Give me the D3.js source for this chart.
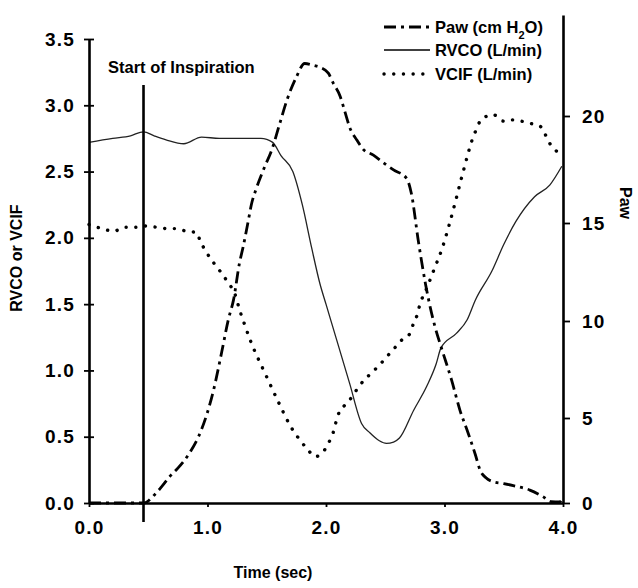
<!DOCTYPE html>
<html>
<head>
<meta charset="utf-8">
<script src="https://cdn.jsdelivr.net/npm/d3@7/dist/d3.min.js"></script>
<style>
  html, body { margin: 0; padding: 0; background: #fff; }
  svg { display: block; }
  text { font-family: "Liberation Sans", Arial, Helvetica, sans-serif; font-weight: bold; fill: #000; }
</style>
</head>
<body>
<svg id="chart" width="638" height="588"></svg>
<script>
// ---------------- data ----------------
const xTicks = [0, 1, 2, 3, 4];
const xTickLabels = ["0.0", "1.0", "2.0", "3.0", "4.0"];
const leftTicks = [0, 0.5, 1, 1.5, 2, 2.5, 3, 3.5];
const leftTickLabels = ["0.0", "0.5", "1.0", "1.5", "2.0", "2.5", "3.0", "3.5"];
const rightTicks = [0, 5, 10, 15, 20];
const rightTickLabels = ["0", "5", "10", "15", "20"];
const startTime = 0.46;

const seriesNames = ["Paw", "RVCO (L/min)", "VCIF (L/min)"];

// Paw (cm H2O), right axis
const pawTime = [0, 0.46, 0.55, 0.62, 0.68, 0.75, 0.85, 0.95, 1.05, 1.12, 1.175, 1.22, 1.27, 1.30, 1.345, 1.37, 1.415, 1.485, 1.54, 1.61, 1.67, 1.75, 1.82, 1.9, 1.95, 2.02, 2.06, 2.12, 2.16, 2.2, 2.26, 2.31, 2.4, 2.51, 2.57, 2.68, 2.72, 2.78, 2.84, 2.88, 2.92, 2.98, 3.06, 3.13, 3.2, 3.26, 3.30, 3.35, 3.41, 3.5, 3.58, 3.72, 3.83, 3.9, 3.97, 4.0];
const pawValues = [0, 0, 0.46, 1.02, 1.55, 2.05, 2.96, 4.33, 6.41, 8.40, 10.05, 11.09, 12.96, 13.76, 15.13, 15.85, 16.66, 17.66, 18.38, 19.65, 20.78, 21.93, 22.60, 22.50, 22.41, 22.12, 21.64, 20.97, 20.20, 19.47, 18.88, 18.47, 18.17, 17.71, 17.48, 17.09, 16.39, 14.05, 11.88, 10.69, 9.70, 8.50, 6.95, 5.41, 4.10, 2.85, 1.94, 1.48, 1.25, 1.14, 1.02, 0.76, 0.38, 0.08, 0.06, 0.34];

// RVCO (L/min), left axis
const rvcoTime = [0, 0.2, 0.35, 0.46, 0.55, 0.65, 0.8, 0.95, 1.1, 1.3, 1.45, 1.55, 1.62, 1.72, 1.8, 1.88, 1.95, 2.0, 2.09, 2.2, 2.3, 2.37, 2.45, 2.51, 2.57, 2.62, 2.74, 2.85, 2.93, 2.97, 3.1, 3.19, 3.26, 3.4, 3.5, 3.6, 3.76, 3.89, 3.99];
const rvcoValues = [2.72, 2.75, 2.77, 2.80, 2.77, 2.74, 2.71, 2.76, 2.75, 2.75, 2.75, 2.72, 2.62, 2.50, 2.25, 1.92, 1.65, 1.50, 1.23, 0.9, 0.6, 0.53, 0.47, 0.45, 0.46, 0.49, 0.70, 0.88, 1.05, 1.17, 1.28, 1.38, 1.53, 1.75, 1.95, 2.12, 2.31, 2.40, 2.54];

// VCIF (L/min), left axis
const vcifTime = [0, 0.11, 0.21, 0.30, 0.39, 0.47, 0.57, 0.66, 0.74, 0.82, 0.91, 0.94, 0.98, 1.02, 1.08, 1.13, 1.175, 1.23, 1.27, 1.30, 1.36, 1.49, 1.61, 1.70, 1.78, 1.84, 1.91, 1.98, 2.02, 2.06, 2.10, 2.16, 2.22, 2.27, 2.37, 2.44, 2.51, 2.58, 2.64, 2.71, 2.74, 2.77, 2.79, 2.85, 2.92, 2.98, 3.04, 3.10, 3.14, 3.17, 3.20, 3.23, 3.26, 3.30, 3.34, 3.41, 3.50, 3.57, 3.65, 3.74, 3.81, 3.85, 3.89, 3.95, 3.99];
const vcifValues = [2.10, 2.07, 2.05, 2.08, 2.08, 2.09, 2.08, 2.07, 2.07, 2.05, 2.04, 1.97, 1.91, 1.85, 1.78, 1.72, 1.66, 1.58, 1.46, 1.38, 1.23, 0.97, 0.74, 0.58, 0.475, 0.41, 0.35, 0.39, 0.45, 0.53, 0.66, 0.74, 0.80, 0.87, 0.97, 1.03, 1.10, 1.17, 1.23, 1.28, 1.36, 1.42, 1.49, 1.62, 1.78, 1.92, 2.10, 2.30, 2.44, 2.54, 2.64, 2.73, 2.80, 2.88, 2.91, 2.93, 2.88, 2.89, 2.88, 2.86, 2.84, 2.78, 2.71, 2.65, 2.62];

// ---------------- chart ----------------
const svg = d3.select("#chart");
const x = d3.scaleLinear().domain([0, 4]).range([89, 563]);
const yL = d3.scaleLinear().domain([0, 3.5]).range([503, 39]);
// the scanned right axis has slightly uneven tick spacing; follow it piecewise
const yR = d3.scaleLinear().domain([0, 5, 10, 15, 20, 25]).range([503, 418, 321, 223, 116, 15]);

const zip = (t, v) => t.map((d, i) => [d, v[i]]);
const lineL = d3.line().x(d => x(d[0])).y(d => yL(d[1])).curve(d3.curveMonotoneX);
const lineR = d3.line().x(d => x(d[0])).y(d => yR(d[1])).curve(d3.curveMonotoneX);

// curves
svg.append("path").datum(zip(rvcoTime, rvcoValues))
  .attr("d", lineL).attr("fill", "none").attr("stroke", "#222").attr("stroke-width", 1.3);
svg.append("path").datum(zip(vcifTime, vcifValues))
  .attr("d", lineL).attr("fill", "none").attr("stroke", "#000").attr("stroke-width", 3.4)
  .attr("stroke-linecap", "round").attr("stroke-dasharray", "0.1,9.6");
svg.append("path").datum(zip(pawTime, pawValues))
  .attr("d", lineR).attr("fill", "none").attr("stroke", "#000").attr("stroke-width", 2.8)
  .attr("stroke-dasharray", "12,5,3,5");

// axes
const fontTick = "19px";
const gL = svg.append("g").attr("transform", `translate(${x(0)},0)`)
  .call(d3.axisLeft(yL).tickValues(leftTicks).tickFormat((d, i) => leftTickLabels[i]).tickSize(5).tickSizeOuter(0).tickPadding(9));
gL.selectAll(".tick line").attr("x1", 5);
const gB = svg.append("g").attr("transform", `translate(0,${yL(0)})`)
  .call(d3.axisBottom(x).tickValues(xTicks).tickFormat((d, i) => xTickLabels[i]).tickSize(4).tickSizeOuter(0).tickPadding(14));
const gR = svg.append("g").attr("transform", `translate(${x(4)},0)`)
  .call(d3.axisRight(yR).tickValues(rightTicks).tickFormat((d, i) => rightTickLabels[i]).tickSize(7).tickSizeOuter(0).tickPadding(12));

[gL, gB, gR].forEach(g => {
  g.select(".domain").attr("stroke", "#000").attr("stroke-width", 2.6);
  g.selectAll(".tick line").attr("stroke", "#000").attr("stroke-width", 1.8);
  g.selectAll(".tick text").style("font-size", fontTick).style("letter-spacing", "1.2px")
    .attr("font-family", null).attr("fill", "#000");
});

// start of inspiration marker
svg.append("line").attr("x1", x(startTime)).attr("x2", x(startTime))
  .attr("y1", 85).attr("y2", 522).attr("stroke", "#000").attr("stroke-width", 2.6);
svg.append("text").attr("x", 108).attr("y", 67).attr("dy", "0.35em")
  .style("font-size", "16.5px").text("Start of Inspiration");

// axis titles
svg.append("text").attr("transform", "translate(16,258) rotate(-90)")
  .attr("text-anchor", "middle").attr("dy", "0.35em").style("font-size", "16px").text("RVCO or VCIF");
svg.append("text").attr("transform", "translate(626,203) rotate(90)")
  .attr("text-anchor", "middle").attr("dy", "0.35em").style("font-size", "16px").text("Paw");
svg.append("text").attr("x", 273).attr("y", 572).attr("text-anchor", "middle").attr("dy", "0.35em")
  .style("font-size", "16px").text("Time (sec)");

// legend
const legendY = [27, 50, 74];
const legendStyles = [
  { w: 2.8, dash: "12,5,3,5", cap: "butt" },
  { w: 1.3, dash: null, cap: "butt" },
  { w: 3.4, dash: "0.1,9.6", cap: "round" }
];
const leg = svg.append("g");
seriesNames.forEach((name, i) => {
  leg.append("line").attr("x1", 384).attr("x2", 430).attr("y1", legendY[i]).attr("y2", legendY[i])
    .attr("stroke", "#000").attr("stroke-width", legendStyles[i].w)
    .attr("stroke-dasharray", legendStyles[i].dash).attr("stroke-linecap", legendStyles[i].cap);
  const t = leg.append("text").attr("x", 435).attr("y", legendY[i]).attr("dy", "0.35em").style("font-size", "16.5px");
  if (i === 0) {
    t.append("tspan").text(name + "  (cm H");
    t.append("tspan").attr("baseline-shift", "sub").style("font-size", "11px").text("2");
    t.append("tspan").text("O)");
  } else {
    t.text(name);
  }
});
</script>
</body>
</html>
